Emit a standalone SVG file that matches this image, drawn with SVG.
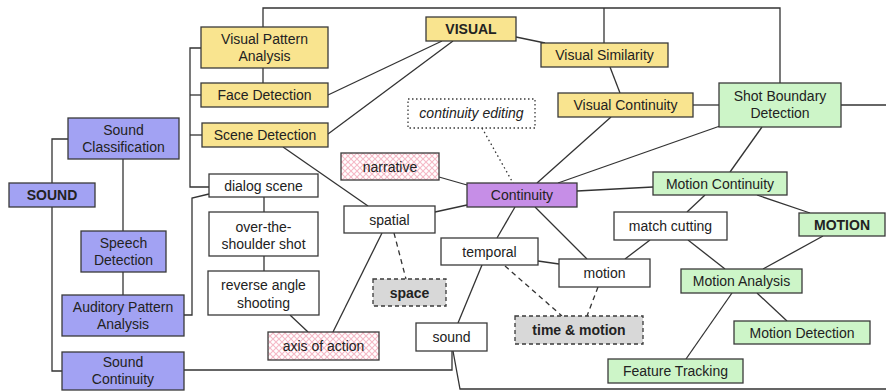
<svg xmlns="http://www.w3.org/2000/svg" width="886" height="392" viewBox="0 0 886 392">
  <defs>
    <pattern id="hatch" width="6" height="6" patternUnits="userSpaceOnUse">
      <rect width="6" height="6" fill="#ffffff"/>
      <path d="M0,0 L6,6 M6,0 L0,6" stroke="#f5b9c6" stroke-width="1.1"/>
    </pattern>
    <style>
      .n rect { stroke: #3a3a3a; stroke-width: 1.3; }
      .y rect { fill: #f9e48f; }
      .b rect { fill: #a2a2f3; }
      .g rect { fill: #cdf5c8; }
      .w rect { fill: #ffffff; }
      .p rect { fill: #c68ee7; }
      .h rect { fill: url(#hatch); }
      .d rect { fill: #d8d8d8; stroke-dasharray: 4 3; }
      .o rect { fill: #ffffff; stroke-dasharray: 1.5 2.5; }
      text { font-family: "Liberation Sans", Arial, Helvetica, sans-serif; font-size: 14px; fill: #222; text-anchor: middle; }
      .bold text { font-weight: bold; }
      .it text { font-style: italic; }
      #links line, #links polyline { stroke: #333; stroke-width: 1.3; fill: none; }
      #links .dash { stroke-dasharray: 5 4; }
      #links .dot { stroke-dasharray: 1.5 3; }
    </style>
  </defs>
  <rect width="886" height="392" fill="#ffffff"/>

  <g id="links">
    <!-- top bus -->
    <polyline points="263,27 263,8 780,8 780,83"/>
    <line x1="604" y1="8" x2="604" y2="43"/>
    <line x1="841" y1="105" x2="886" y2="105"/>
    <!-- visual column -->
    <line x1="263" y1="68" x2="263" y2="83"/>
    <polyline points="201,48 190,48 190,187 209,187"/>
    <line x1="190" y1="95" x2="201" y2="95"/>
    <line x1="190" y1="135" x2="202" y2="135"/>
    <line x1="328" y1="95" x2="442" y2="41"/>
    <line x1="328" y1="134" x2="453" y2="41"/>
    <line x1="283" y1="147" x2="368" y2="206"/>
    <line x1="264" y1="197" x2="264" y2="212"/>
    <line x1="264" y1="256" x2="264" y2="271"/>
    <polyline points="184,315 192,315 192,198 209,194"/>
    <!-- sound column -->
    <polyline points="68,139 52,139 52,183"/>
    <line x1="123" y1="159" x2="123" y2="231"/>
    <line x1="123" y1="272" x2="123" y2="295"/>
    <polyline points="52,207 52,371 62,371"/>
    <polyline points="184,370 452,370 452,351"/>
    <polyline points="453,351 460,389 886,389"/>
    <!-- continuity hub -->
    <line x1="458" y1="323" x2="482" y2="265"/>
    <line x1="497" y1="238" x2="515" y2="207"/>
    <line x1="535" y1="207" x2="587" y2="259"/>
    <line x1="538" y1="261" x2="559" y2="264"/>
    <line class="dash" x1="505" y1="266" x2="562" y2="316"/>
    <line class="dash" x1="598" y1="287" x2="587" y2="316"/>
    <line class="dash" x1="394" y1="233" x2="406" y2="279"/>
    <line x1="382" y1="233" x2="333" y2="332"/>
    <line x1="290" y1="315" x2="308" y2="332"/>
    <line x1="435" y1="212" x2="467" y2="205"/>
    <line x1="439" y1="177" x2="467" y2="185"/>
    <line class="dot" x1="482" y1="128" x2="513" y2="183"/>
    <line x1="611" y1="117" x2="537" y2="183"/>
    <line x1="720" y1="126" x2="558" y2="183"/>
    <line x1="577" y1="191" x2="653" y2="187"/>
    <!-- visual / motion -->
    <line x1="610" y1="67" x2="620" y2="93"/>
    <line x1="516" y1="37" x2="545" y2="43"/>
    <line x1="693" y1="105" x2="719" y2="105"/>
    <line x1="762" y1="127" x2="730" y2="172"/>
    <line x1="705" y1="195" x2="687" y2="212"/>
    <line x1="757" y1="195" x2="810" y2="213"/>
    <line x1="650" y1="240" x2="625" y2="259"/>
    <line x1="688" y1="240" x2="725" y2="269"/>
    <line x1="823" y1="236" x2="763" y2="269"/>
    <line x1="757" y1="293" x2="787" y2="321"/>
    <line x1="732" y1="293" x2="686" y2="359"/>
  </g>

  <!-- visual nodes -->
  <g id="visual-pattern" class="n y"><rect x="201" y="27" width="127" height="41"/><text x="264.5" y="44">Visual Pattern</text><text x="264.5" y="61">Analysis</text></g>
  <g id="face-detection" class="n y"><rect x="201" y="83" width="127" height="24"/><text x="264.5" y="100">Face Detection</text></g>
  <g id="scene-detection" class="n y"><rect x="202" y="123" width="126" height="24"/><text x="265" y="140">Scene Detection</text></g>
  <g id="visual" class="n y bold"><rect x="426" y="17" width="90" height="24"/><text x="471" y="34">VISUAL</text></g>
  <g id="visual-similarity" class="n y"><rect x="541" y="43" width="127" height="24"/><text x="604.5" y="60">Visual Similarity</text></g>
  <g id="visual-continuity" class="n y"><rect x="558" y="93" width="135" height="24"/><text x="625.5" y="110">Visual Continuity</text></g>
  <g id="shot-boundary" class="n g"><rect x="719" y="83" width="122" height="44"/><text x="780" y="100.5">Shot Boundary</text><text x="780" y="118">Detection</text></g>

  <!-- sound nodes -->
  <g id="sound-classification" class="n b"><rect x="68" y="118" width="111" height="41"/><text x="123.5" y="135">Sound</text><text x="123.5" y="152">Classification</text></g>
  <g id="sound-root" class="n b bold"><rect x="9" y="183" width="86" height="24"/><text x="52" y="200">SOUND</text></g>
  <g id="speech-detection" class="n b"><rect x="81" y="231" width="85" height="41"/><text x="123.5" y="248">Speech</text><text x="123.5" y="265">Detection</text></g>
  <g id="auditory-pattern" class="n b"><rect x="62" y="295" width="122" height="41"/><text x="123" y="312">Auditory Pattern</text><text x="123" y="329">Analysis</text></g>
  <g id="sound-continuity" class="n b"><rect x="62" y="352" width="122" height="38"/><text x="123" y="367">Sound</text><text x="123" y="384">Continuity</text></g>

  <!-- editing nodes -->
  <g id="dialog-scene" class="n w"><rect x="209" y="174" width="109" height="23"/><text x="263.5" y="190.5">dialog scene</text></g>
  <g id="over-shoulder" class="n w"><rect x="209" y="212" width="109" height="44"/><text x="263.5" y="231.5">over-the-</text><text x="263.5" y="249">shoulder shot</text></g>
  <g id="reverse-angle" class="n w"><rect x="208" y="271" width="111" height="44"/><text x="263.5" y="290">reverse angle</text><text x="263.5" y="307.5">shooting</text></g>
  <g id="axis-of-action" class="n h"><rect x="268" y="332" width="111" height="28"/><text x="323.5" y="351">axis of action</text></g>
  <g id="narrative" class="n h"><rect x="341" y="153" width="98" height="27"/><text x="390" y="171.5">narrative</text></g>
  <g id="continuity-editing" class="n o it"><rect x="408" y="99" width="127" height="29"/><text x="471.5" y="118">continuity editing</text></g>
  <g id="spatial" class="n w"><rect x="344" y="206" width="91" height="27"/><text x="389.5" y="224.5">spatial</text></g>
  <g id="space" class="n d bold"><rect x="373" y="279" width="73" height="27"/><text x="409.5" y="297.5">space</text></g>
  <g id="continuity" class="n p"><rect x="467" y="183" width="110" height="24"/><text x="522" y="200">Continuity</text></g>
  <g id="temporal" class="n w"><rect x="441" y="238" width="97" height="27"/><text x="489.5" y="256.5">temporal</text></g>
  <g id="sound" class="n w"><rect x="416" y="323" width="71" height="28"/><text x="451.5" y="342">sound</text></g>
  <g id="motion" class="n w"><rect x="559" y="259" width="91" height="28"/><text x="604.5" y="278">motion</text></g>
  <g id="time-motion" class="n d bold"><rect x="515" y="316" width="128" height="28"/><text x="579" y="335">time &amp; motion</text></g>

  <!-- motion nodes -->
  <g id="motion-continuity" class="n g"><rect x="653" y="172" width="134" height="23"/><text x="720" y="188.5">Motion Continuity</text></g>
  <g id="motion-root" class="n g bold"><rect x="799" y="213" width="86" height="23"/><text x="842" y="229.5">MOTION</text></g>
  <g id="match-cutting" class="n w"><rect x="614" y="212" width="113" height="28"/><text x="670.5" y="231">match cutting</text></g>
  <g id="motion-analysis" class="n g"><rect x="681" y="269" width="121" height="24"/><text x="741.5" y="286">Motion Analysis</text></g>
  <g id="motion-detection" class="n g"><rect x="734" y="321" width="136" height="23"/><text x="802" y="337.5">Motion Detection</text></g>
  <g id="feature-tracking" class="n g"><rect x="608" y="359" width="135" height="24"/><text x="675.5" y="376">Feature Tracking</text></g>
</svg>
